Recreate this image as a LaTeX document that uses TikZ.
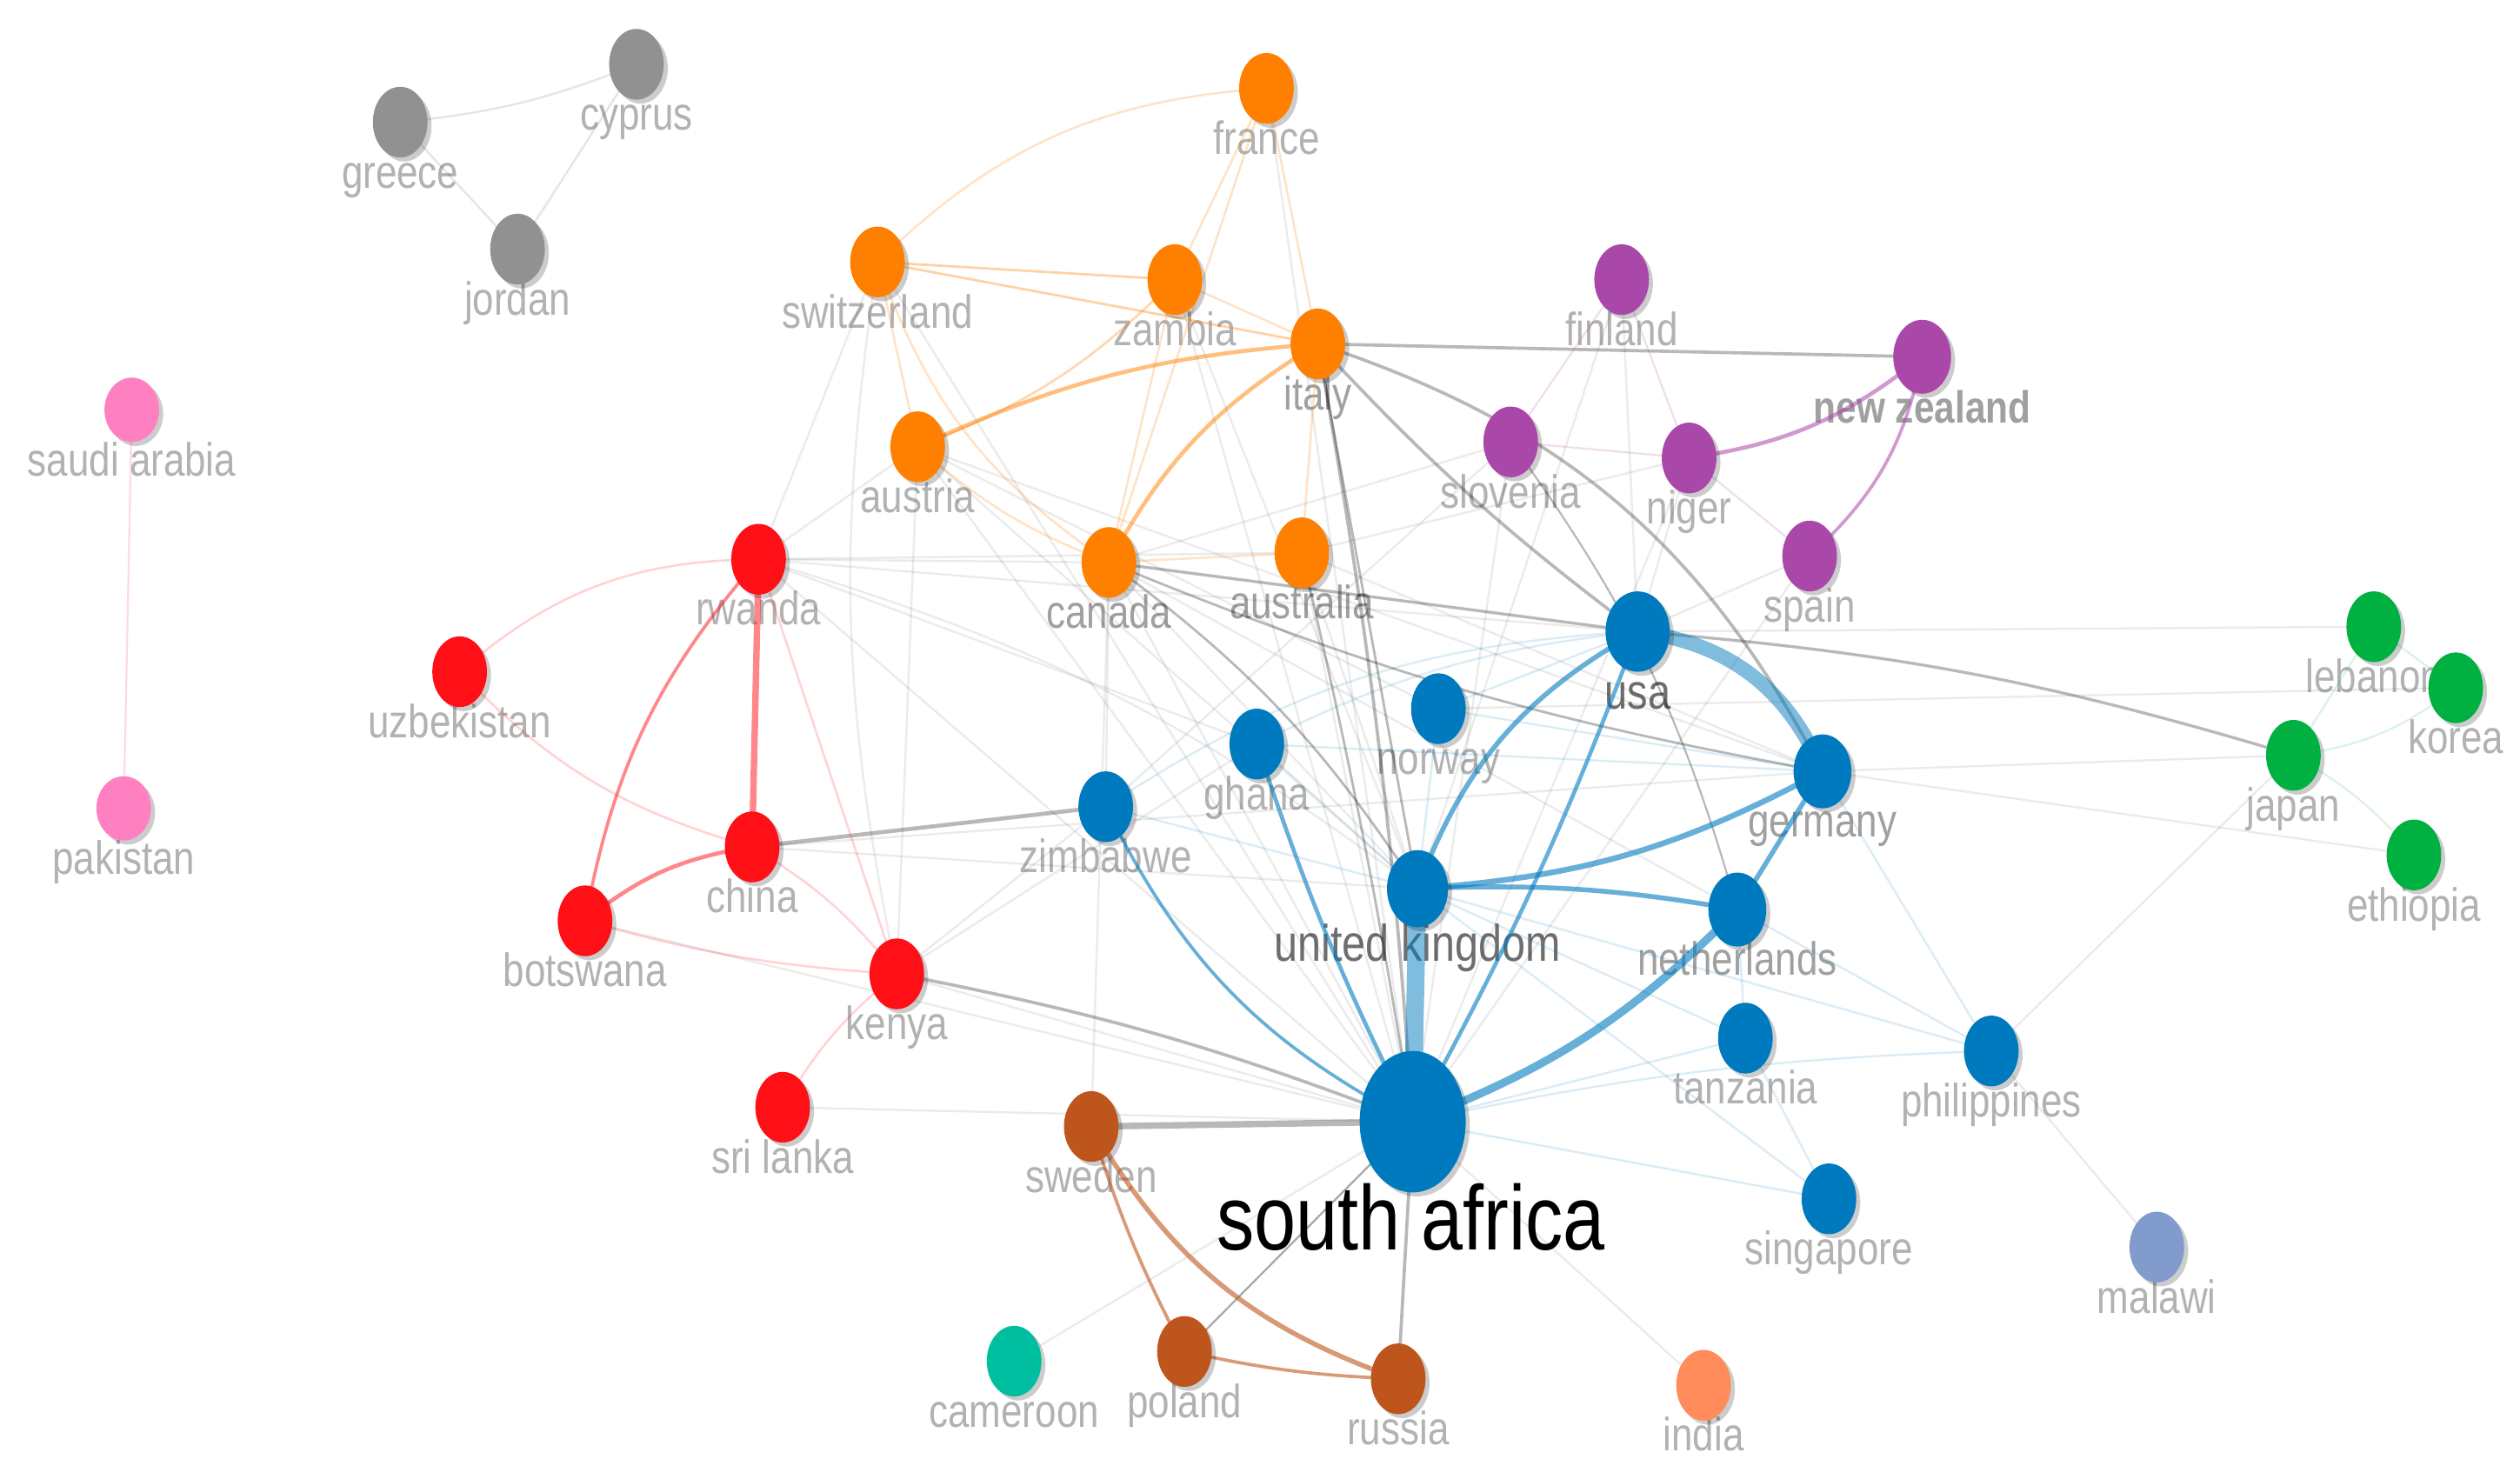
\documentclass[tikz,border=0pt]{standalone}
\usepackage{fontspec}
\setmainfont[FakeStretch=0.82]{Liberation Sans}
\usetikzlibrary{shapes.geometric,shadows}
\pgfdeclarelayer{bgw}\pgfdeclarelayer{lab}\pgfdeclarelayer{edg}
\pgfsetlayers{bgw,lab,edg,main}
\definecolor{cOr}{RGB}{255,128,0}
\definecolor{cPu}{RGB}{170,72,170}
\definecolor{cRe}{RGB}{255,15,22}
\definecolor{cBl}{RGB}{0,122,190}
\definecolor{cGy}{RGB}{145,145,145}
\definecolor{cPk}{RGB}{255,128,192}
\definecolor{cGn}{RGB}{0,176,64}
\definecolor{cBr}{RGB}{190,85,28}
\definecolor{cTe}{RGB}{0,190,160}
\definecolor{cIn}{RGB}{255,140,90}
\definecolor{cMa}{RGB}{130,155,205}
\definecolor{lgray}{RGB}{178,178,178}
\definecolor{mgray}{RGB}{160,160,160}
\definecolor{dgray}{RGB}{110,110,110}
\begin{document}
\begin{tikzpicture}[x=1pt,y=-1pt,
  nd/.style={ellipse, inner sep=0pt, minimum width=34pt, minimum height=44pt, fill=#1,
    drop shadow={shadow xshift=2.5pt, shadow yshift=-2.5pt, opacity=0.2, fill=black}},
  lb/.style={anchor=base, inner sep=0pt, font=\fontsize{29}{29}\selectfont, text=lgray},
  eBlue/.style={draw=cBl, opacity=0.6, line width=#1}, eBlue/.default=2.5,
  eBlueF/.style={draw=cBl, opacity=0.14, line width=1.3},
  eGray/.style={draw=black, opacity=0.28, line width=#1}, eGray/.default=2,
  eGrayF/.style={draw=black, opacity=0.08, line width=1.3},
  eOr/.style={draw=cOr, opacity=0.5, line width=#1}, eOr/.default=2.5,
  eOrF/.style={draw=cOr, opacity=0.22, line width=1.4},
  eRe/.style={draw=cRe, opacity=0.5, line width=#1}, eRe/.default=2,
  eReF/.style={draw=cRe, opacity=0.18, line width=1.4},
  ePu/.style={draw=cPu, opacity=0.55, line width=#1}, ePu/.default=2,
  ePuF/.style={draw=cPu, opacity=0.18, line width=1.2},
  eBr/.style={draw=cBr, opacity=0.6, line width=#1}, eBr/.default=2,
  eGnF/.style={draw=cGn, opacity=0.15, line width=1.2},
  eGyF/.style={draw=black, opacity=0.1, line width=1.3},
  ePkF/.style={draw=cPk, opacity=0.3, line width=1.2}]
\begin{pgfonlayer}{bgw}
\fill[white] (0,0) rectangle (1568,920);
\end{pgfonlayer}
\useasboundingbox (0,0) rectangle (1568,920);

% ---------------- nodes ----------------
\node[nd=cGy] (cyprus) at (396,40) {};
\node[nd=cGy] (greece) at (249,76) {};
\node[nd=cGy] (jordan) at (322,155) {};
\node[nd=cPk, minimum height=40pt] (saudi) at (82,255) {};
\node[nd=cPk, minimum height=40pt] (pakistan) at (77,503) {};
\node[nd=cOr] (france) at (788,55) {};
\node[nd=cOr] (switzerland) at (546,163) {};
\node[nd=cOr] (zambia) at (731,174) {};
\node[nd=cOr] (italy) at (820,214) {};
\node[nd=cOr] (austria) at (571,278) {};
\node[nd=cOr] (canada) at (690,350) {};
\node[nd=cOr] (australia) at (810,344) {};
\node[nd=cPu] (finland) at (1009,174) {};
\node[nd=cPu, minimum width=36pt, minimum height=46pt] (nz) at (1196,222) {};
\node[nd=cPu] (slovenia) at (940,275) {};
\node[nd=cPu] (niger) at (1051,285) {};
\node[nd=cPu] (spain) at (1126,346) {};
\node[nd=cRe] (rwanda) at (472,348) {};
\node[nd=cRe] (uzbekistan) at (286,418) {};
\node[nd=cRe] (china) at (468,527) {};
\node[nd=cRe] (botswana) at (364,573) {};
\node[nd=cRe] (kenya) at (558,606) {};
\node[nd=cRe] (srilanka) at (487,689) {};
\node[nd=cBl, minimum width=40pt, minimum height=50pt] (usa) at (1019,393) {};
\node[nd=cBl] (norway) at (895,441) {};
\node[nd=cBl] (ghana) at (782,463) {};
\node[nd=cBl] (zimbabwe) at (688,502) {};
\node[nd=cBl, minimum width=36pt, minimum height=46pt] (germany) at (1134,480) {};
\node[nd=cBl, minimum width=38pt, minimum height=48pt] (uk) at (882,553) {};
\node[nd=cBl, minimum width=36pt, minimum height=46pt] (netherlands) at (1081,566) {};
\node[nd=cBl] (tanzania) at (1086,646) {};
\node[nd=cBl] (philippines) at (1239,654) {};
\node[nd=cBl, minimum width=66pt, minimum height=88pt] (sa) at (879,698) {};
\node[nd=cBl] (singapore) at (1138,746) {};
\node[nd=cMa] (malawi) at (1342,776) {};
\node[nd=cGn] (lebanon) at (1477,390) {};
\node[nd=cGn] (korea) at (1528,428) {};
\node[nd=cGn] (japan) at (1427,470) {};
\node[nd=cGn] (ethiopia) at (1502,532) {};
\node[nd=cBr] (sweden) at (679,701) {};
\node[nd=cTe] (cameroon) at (631,847) {};
\node[nd=cBr] (poland) at (737,841) {};
\node[nd=cBr] (russia) at (870,858) {};
\node[nd=cIn] (india) at (1060,862) {};

% ---------------- labels ----------------
\begin{pgfonlayer}{lab}
\node[lb] (cyprus-l) at (396,81) {cyprus};
\node[lb] (greece-l) at (249,117) {greece};
\node[lb] (jordan-l) at (322,196) {jordan};
\node[lb] (saudi-l) at (82,296) {saudi arabia};
\node[lb] (pakistan-l) at (77,544) {pakistan};
\node[lb] (france-l) at (788,96) {france};
\node[lb] (switzerland-l) at (546,204) {switzerland};
\node[lb] (zambia-l) at (731,215) {zambia};
\node[lb, text=mgray] (italy-l) at (820,255) {italy};
\node[lb] (austria-l) at (571,319) {austria};
\node[lb, text=mgray] (canada-l) at (690,391) {canada};
\node[lb, text=mgray] (australia-l) at (810,385) {australia};
\node[lb] (finland-l) at (1009,215) {finland};
\node[lb, text=mgray, font=\fontsize{28}{28}\selectfont\bfseries] (nz-l) at (1196,263) {new zealand};
\node[lb] (slovenia-l) at (940,316) {slovenia};
\node[lb] (niger-l) at (1051,326) {niger};
\node[lb] (spain-l) at (1126,387) {spain};
\node[lb] (rwanda-l) at (472,389) {rwanda};
\node[lb] (uzbekistan-l) at (286,459) {uzbekistan};
\node[lb] (china-l) at (468,568) {china};
\node[lb] (botswana-l) at (364,614) {botswana};
\node[lb] (kenya-l) at (558,647) {kenya};
\node[lb] (srilanka-l) at (487,730) {sri lanka};
\node[lb, text=dgray, font=\fontsize{31}{31}\selectfont] (usa-l) at (1019,441) {usa};
\node[lb] (norway-l) at (895,482) {norway};
\node[lb] (ghana-l) at (782,504) {ghana};
\node[lb] (zimbabwe-l) at (688,543) {zimbabwe};
\node[lb, text=mgray] (germany-l) at (1134,521) {germany};
\node[lb, text=dgray, font=\fontsize{32}{32}\selectfont] (uk-l) at (882,598) {united kingdom};
\node[lb, text=mgray] (netherlands-l) at (1081,607) {netherlands};
\node[lb] (tanzania-l) at (1086,687) {tanzania};
\node[lb] (philippines-l) at (1239,695) {philippines};
\node[lb, text=black, font=\fontsize{57}{57}\selectfont] (sa-l) at (878,778) {south africa};
\node[lb] (singapore-l) at (1138,787) {singapore};
\node[lb] (malawi-l) at (1342,817) {malawi};
\node[lb] (lebanon-l) at (1477,431) {lebanon};
\node[lb] (korea-l) at (1528,469) {korea};
\node[lb] (japan-l) at (1427,511) {japan};
\node[lb] (ethiopia-l) at (1502,573) {ethiopia};
\node[lb] (sweden-l) at (679,742) {sweden};
\node[lb] (cameroon-l) at (631,888) {cameroon};
\node[lb] (poland-l) at (737,882) {poland};
\node[lb] (russia-l) at (870,899) {russia};
\node[lb] (india-l) at (1060,903) {india};
\end{pgfonlayer}

% ---------------- edges ----------------
\begin{pgfonlayer}{edg}
% faint background links
\draw[eGrayF] (rwanda.center) -- (switzerland.center);
\draw[eGrayF] (rwanda.center) -- (austria.center);
\draw[eGrayF] (rwanda.center) -- (canada.center);
\draw[eGrayF] (rwanda.center) -- (australia.center);
\draw[eGrayF] (rwanda.center) -- (usa.center);
\draw[eGrayF] (rwanda.center) -- (sa.center);
\draw[eGrayF] (rwanda.center) -- (ghana.center);
\draw[eGrayF] (rwanda.center) to[bend left=10] (uk.center);
\draw[eGrayF] (austria.center) -- (sa.center);
\draw[eGrayF] (austria.center) -- (uk.center);
\draw[eGrayF] (austria.center) -- (germany.center);
\draw[eGrayF] (austria.center) -- (norway.center);
\draw[eGrayF] (switzerland.center) -- (sa.center);
\draw[eGrayF] (switzerland.center) to[bend right=10] (kenya.center);
\draw[eGrayF] (canada.center) -- (sa.center);
\draw[eGrayF] (canada.center) -- (uk.center);
\draw[eGrayF] (canada.center) -- (sweden.center);
\draw[eGrayF] (canada.center) -- (netherlands.center);
\draw[eGrayF] (australia.center) -- (sa.center);
\draw[eGrayF] (australia.center) -- (uk.center);
\draw[eGrayF] (australia.center) -- (germany.center);
\draw[eGrayF] (australia.center) -- (niger.center);
\draw[eGrayF] (zambia.center) -- (sa.center);
\draw[eGrayF] (zambia.center) -- (uk.center);
\draw[eGrayF] (france.center) -- (sa.center);
\draw[eGrayF] (slovenia.center) -- (sa.center);
\draw[eGrayF] (slovenia.center) -- (canada.center);
\draw[eGrayF] (slovenia.center) -- (zimbabwe.center);
\draw[eGrayF] (niger.center) -- (sa.center);
\draw[eGrayF] (niger.center) -- (usa.center);
\draw[eGrayF] (finland.center) -- (usa.center);
\draw[eGrayF] (finland.center) -- (uk.center);
\draw[eGrayF] (spain.center) -- (usa.center);
\draw[eGrayF] (spain.center) -- (sa.center);
\draw[eGrayF] (kenya.center) -- (zimbabwe.center);
\draw[eGrayF] (kenya.center) -- (ghana.center);
\draw[eGrayF] (kenya.center) -- (austria.center);
\draw[eGrayF] (botswana.center) -- (sa.center);
\draw[eGrayF] (china.center) -- (uk.center);
\draw[eGrayF] (china.center) -- (germany.center);
\draw[eGrayF] (zimbabwe.center) -- (canada.center);
\draw[eGrayF] (poland.center) -- (sa.center);
\draw[eGrayF] (cameroon.center) -- (sa.center);
\draw[eGrayF] (india.center) -- (sa.center);
\draw[eGrayF] (srilanka.center) -- (sa.center);
\draw[eGrayF] (malawi.center) -- (philippines.center);
\draw[eGrayF] (usa.center) -- (lebanon.center);
\draw[eGrayF] (norway.center) -- (korea.center);
\draw[eGrayF] (germany.center) -- (japan.center);
\draw[eGrayF] (germany.center) -- (ethiopia.center);
\draw[eGrayF] (philippines.center) -- (japan.center);
\draw[eGrayF] (kenya.center) -- (sa.center);
% light blue
\draw[eBlueF] (usa.center) to[bend right=10] (ghana.center);
\draw[eBlueF] (usa.center) to[bend right=15] (zimbabwe.center);
\draw[eBlueF] (usa.center) -- (norway.center);
\draw[eBlueF] (norway.center) -- (germany.center);
\draw[eBlueF] (ghana.center) -- (germany.center);
\draw[eBlueF] (zimbabwe.center) -- (uk.center);
\draw[eBlueF] (ghana.center) -- (uk.center);
\draw[eBlueF] (norway.center) -- (uk.center);
\draw[eBlueF] (uk.center) -- (tanzania.center);
\draw[eBlueF] (uk.center) -- (philippines.center);
\draw[eBlueF] (sa.center) -- (tanzania.center);
\draw[eBlueF] (sa.center) to[bend left=5] (philippines.center);
\draw[eBlueF] (sa.center) -- (singapore.center);
\draw[eBlueF] (netherlands.center) -- (tanzania.center);
\draw[eBlueF] (tanzania.center) -- (singapore.center);
\draw[eBlueF] (germany.center) -- (philippines.center);
\draw[eBlueF] (netherlands.center) -- (philippines.center);
\draw[eBlueF] (uk.center) -- (singapore.center);
% gray strong
\draw[eGray=2] (italy.center) -- (nz.center);
\draw[eGray=2] (italy.center) to[bend right=5] (usa.center);
\draw[eGray=2] (italy.center) to[bend left=22] (germany.center);
\draw[eGray=2] (italy.center) to[bend left=3] (sa.center);
\draw[eGray=1.5] (italy.center) -- (uk.center);
\draw[eGray=1.5] (australia.center) to[bend left=2] (sa.center);
\draw[eGray=1.8] (canada.center) -- (usa.center);
\draw[eGray=1.5] (canada.center) to[bend right=6] (germany.center);
\draw[eGray=1.5] (canada.center) to[bend left=10] (uk.center);
\draw[eGray=1.8] (usa.center) to[bend left=6] (japan.center);
\draw[eGray=1.2] (slovenia.center) to[bend left=10] (netherlands.center);
\draw[eGray=4] (sweden.center) -- (sa.center);
\draw[eGray=2] (kenya.center) to[bend left=5] (sa.center);
\draw[eGray=2] (russia.center) -- (sa.center);
\draw[eGray=1.2] (poland.center) -- (sa.center);
\draw[eGray=2.5] (china.center) -- (zimbabwe.center);
% orange
\draw[eOrF] (switzerland.center) to[bend left=20] (france.center);
\draw[eOrF] (france.center) -- (zambia.center);
\draw[eOrF] (france.center) -- (italy.center);
\draw[eOrF] (france.center) -- (canada.center);
\draw[eOr=1.5, opacity=0.35] (switzerland.center) -- (zambia.center);
\draw[eOr=1.5, opacity=0.35] (switzerland.center) -- (italy.center);
\draw[eOrF] (switzerland.center) -- (austria.center);
\draw[eOrF] (switzerland.center) to[bend right=18] (canada.center);
\draw[eOr=1.5, opacity=0.3] (austria.center) to[bend right=12] (zambia.center);
\draw[eOr=2.5] (austria.center) to[bend left=10] (italy.center);
\draw[eOr=2.5] (canada.center) to[bend left=15] (italy.center);
\draw[eOrF] (zambia.center) -- (italy.center);
\draw[eOrF] (zambia.center) -- (canada.center);
\draw[eOrF] (italy.center) -- (australia.center);
\draw[eOrF] (canada.center) -- (australia.center);
\draw[eOrF] (austria.center) to[bend right=10] (canada.center);
% purple
\draw[ePu=2.5] (niger.center) to[bend right=15] (nz.center);
\draw[ePu=2] (nz.center) to[bend left=18] (spain.center);
\draw[ePuF] (finland.center) -- (slovenia.center);
\draw[ePuF] (finland.center) -- (niger.center);
\draw[ePuF] (slovenia.center) -- (niger.center);
\draw[ePuF] (niger.center) -- (spain.center);
% red
\draw[eRe=4] (rwanda.center) -- (china.center);
\draw[eRe=2] (rwanda.center) to[bend right=15] (botswana.center);
\draw[eRe=2.5] (botswana.center) to[bend left=15] (china.center);
\draw[eReF] (uzbekistan.center) to[bend left=20] (rwanda.center);
\draw[eReF] (uzbekistan.center) to[bend right=15] (china.center);
\draw[eReF] (botswana.center) to[bend right=6] (kenya.center);
\draw[eReF] (rwanda.center) -- (kenya.center);
\draw[eReF] (china.center) to[bend left=10] (kenya.center);
\draw[eReF] (kenya.center) to[bend right=10] (srilanka.center);
% blue strong
\draw[eBlue=11, opacity=0.5] (sa.center) -- (uk.center);
\draw[eBlue=9, opacity=0.5] (usa.center) to[bend left=30] (germany.center);
\draw[eBlue=5] (sa.center) to[bend right=12] (netherlands.center);
\draw[eBlue=3] (netherlands.center) -- (germany.center);
\draw[eBlue=3.5] (uk.center) to[bend right=12] (germany.center);
\draw[eBlue=3] (uk.center) to[bend left=20] (usa.center);
\draw[eBlue=2.5] (sa.center) to[bend right=4] (usa.center);
\draw[eBlue=2.5] (sa.center) to[bend left=4] (ghana.center);
\draw[eBlue=2] (zimbabwe.center) to[bend right=18] (sa.center);
\draw[eBlue=3] (uk.center) to[bend left=6] (netherlands.center);
% brown
\draw[eBr=3] (sweden.center) to[bend right=20] (russia.center);
\draw[eBr=2] (sweden.center) to[bend right=5] (poland.center);
\draw[eBr=2] (poland.center) to[bend right=5] (russia.center);
% small clusters
\draw[eGyF] (greece.center) to[bend right=8] (cyprus.center);
\draw[eGyF] (greece.center) -- (jordan.center);
\draw[eGyF] (cyprus.center) -- (jordan.center);
\draw[ePkF] (saudi.center) -- (pakistan.center);
\draw[eGnF] (lebanon.center) -- (korea.center);
\draw[eGnF] (lebanon.center) -- (japan.center);
\draw[eGnF] (japan.center) to[bend right=15] (korea.center);
\draw[eGnF] (japan.center) to[bend left=10] (ethiopia.center);
\end{pgfonlayer}
\end{tikzpicture}
\end{document}
